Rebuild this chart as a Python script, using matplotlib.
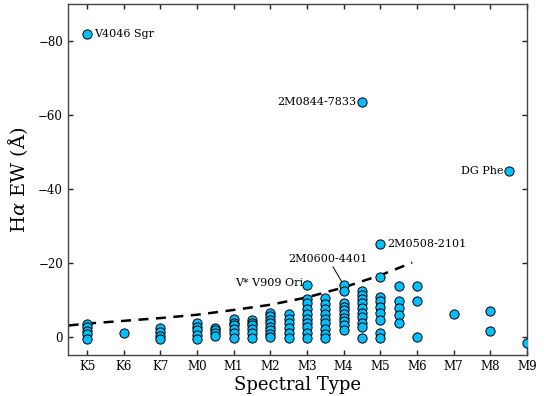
import matplotlib
matplotlib.use("Agg")
import matplotlib.pyplot as plt
import numpy as np

plt.rcParams['font.family'] = ['DejaVu Serif']
plt.rcParams['mathtext.fontset'] = 'dejavuserif'

# spectral type tick labels (K5 = 0 ... M9 = 12)
spt_labels = ['K5', 'K6', 'K7', 'M0', 'M1', 'M2', 'M3', 'M4', 'M5', 'M6', 'M7', 'M8', 'M9']

# H-alpha equivalent widths (Angstrom, emission negative) grouped by spectral type index
ew_by_spt = {
    0.0: [-82.0, -3.5, -2.5, -1.5, -0.6, 0.6],
    1.0: [-0.9],
    2.0: [-2.3, -1.2, -0.1, 0.6],
    3.0: [-3.8, -2.6, -1.7, -0.5, 0.6],
    3.5: [-2.3, -1.7, -1.0, -0.1],
    4.0: [-4.7, -3.8, -3.0, -2.1, -1.0, 0.3],
    4.5: [-4.5, -3.8, -3.0, -2.0, -1.0, 0.3],
    5.0: [-6.5, -5.6, -4.6, -3.7, -2.6, -1.7, -0.8, 0.1],
    5.5: [-6.2, -4.7, -3.8, -2.3, -1.0, 0.3],
    6.0: [-14.0, -10.1, -9.0, -7.4, -6.2, -4.7, -3.7, -2.6, -1.0, 0.3],
    6.5: [-10.4, -8.9, -7.4, -6.2, -4.7, -3.7, -2.1, -0.8, 0.3],
    7.0: [-14.0, -12.4, -9.2, -8.1, -7.1, -6.2, -5.0, -4.1, -3.0, -1.9],
    7.5: [-63.4, -12.4, -11.3, -10.1, -9.0, -7.7, -6.5, -5.3, -3.8, -2.6, 0.3],
    8.0: [-25.0, -16.2, -10.7, -9.5, -8.1, -6.5, -4.6, -1.0, 0.3],
    8.5: [-13.7, -9.7, -7.7, -5.9, -3.8],
    9.0: [-13.7, -9.5, 0.0],
    10.0: [-6.2],
    11.0: [-7.0, -1.6],
    11.5: [-44.8],
    12.0: [1.7],
}

# accretion threshold curve (spectral type index, EW)
thresh_spt = [-0.5, 0.0, 2.0, 3.0, 4.0, 5.0, 6.0, 7.0, 8.0, 8.87]
thresh_ew = [-3.0, -3.5, -5.0, -5.9, -7.2, -8.6, -10.6, -13.3, -16.6, -20.0]

# labelled objects: (name, spt index, EW)
named = [
    ('V4046 Sgr', 0.0, -82.0),
    ('2M0844-7833', 7.5, -63.4),
    ('DG Phe', 11.5, -44.8),
    ('2M0508-2101', 8.0, -25.0),
    ('2M0600-4401', 7.0, -14.0),
    ('V* V909 Ori', 6.0, -14.0),
]

xs, ys = [], []
for k, vals in ew_by_spt.items():
    xs += [k] * len(vals)
    ys += vals

fig = plt.figure(figsize=(5.46, 3.96), dpi=100)
ax = fig.add_axes([0.1245, 0.1035, 0.8405, 0.886])

ax.plot(thresh_spt, thresh_ew, ls='--', color='black', lw=1.8, dashes=(4, 3), zorder=2)
ax.scatter(xs, ys, s=44, facecolor='#00bfff', edgecolor='black', linewidths=0.7, zorder=3)

fs = 8
for name, sx, sy in named:
    if name in ('V4046 Sgr', '2M0508-2101'):
        ax.annotate(name, (sx, sy), xytext=(5, 0), textcoords='offset points',
                    ha='left', va='center', fontsize=fs)
    elif name in ('2M0844-7833', 'DG Phe'):
        ax.annotate(name, (sx, sy), xytext=(-4, 0), textcoords='offset points',
                    ha='right', va='center', fontsize=fs)
    elif name == '2M0600-4401':
        ax.annotate(name, (sx, sy), xytext=(-11, 15), textcoords='offset points',
                    ha='center', va='bottom', fontsize=fs,
                    arrowprops=dict(arrowstyle='-', color='black', lw=0.7,
                                    shrinkA=0, shrinkB=3))
    else:
        ax.annotate(name, (sx, sy), xytext=(-3, 1), textcoords='offset points',
                    ha='right', va='center', fontsize=fs)

ax.set_xlim(-0.52, 12.0)
ax.set_ylim(5, -90)
ax.set_xticks(range(len(spt_labels)))
ax.set_xticklabels(spt_labels)
ax.set_yticks([-80, -60, -40, -20, 0])
ax.tick_params(direction='in', length=3.5, width=1, labelsize=8.5,
               top=True, right=True, color='#222222')
for sp in ax.spines.values():
    sp.set_color('#444444')
    sp.set_linewidth(1.0)

ax.set_xlabel('Spectral Type', fontsize=13, labelpad=2)
ax.set_ylabel(r'H$\alpha$ EW ($\mathrm{\AA}$)', fontsize=14, labelpad=6)

fig.savefig('out.png', dpi=100)
